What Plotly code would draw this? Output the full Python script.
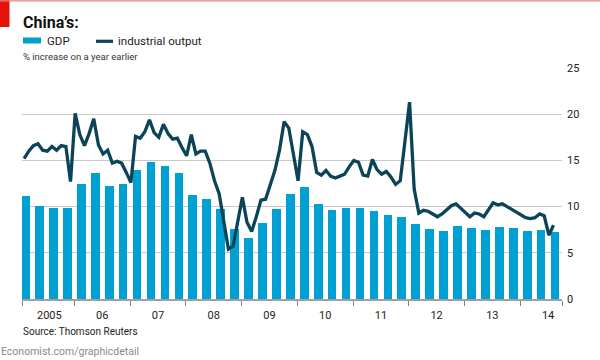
import plotly.graph_objects as go

# ---------------- data ----------------
gdp_years = [2005]*4 + [2006]*4 + [2007]*4 + [2008]*4 + [2009]*4 + [2010]*4 + \
            [2011]*4 + [2012]*4 + [2013]*4 + [2014]*3
gdp_quarters = [1, 2, 3, 4]*9 + [1, 2, 3]
gdp_values = [11.2, 10.1, 9.8, 9.9,
              12.4, 13.6, 12.2, 12.5,
              14.0, 14.8, 14.4, 13.6,
              11.3, 10.8, 9.7, 7.6,
              6.6, 8.2, 9.7, 11.4,
              12.1, 10.3, 9.6, 9.8,
              9.8, 9.5, 9.1, 8.9,
              8.1, 7.6, 7.4, 7.9,
              7.7, 7.5, 7.8, 7.7,
              7.4, 7.5, 7.3]

ip_2005 = [15.2, 16.0, 16.6, 16.8, 16.1, 16.0, 16.5, 16.1, 16.6, 16.5]  # Mar-Dec
ip_2006 = [12.7, 20.1, 17.8, 16.6, 17.9, 19.5, 16.7, 15.7, 16.1, 14.7, 14.9, 14.7]
ip_2007 = [13.7, 12.6, 17.6, 17.4, 18.1, 19.4, 18.0, 17.5, 18.9, 17.9, 17.3, 17.4]
ip_2008 = [16.4, 15.5, 17.8, 15.7, 16.0, 16.0, 14.7, 12.8, 11.4, 8.2, 5.4, 5.7]
ip_2009 = [8.4, 11.0, 8.3, 7.3, 8.9, 10.7, 10.8, 12.3, 13.9, 16.1, 19.2, 18.5]
ip_2010 = [15.7, 12.8, 18.1, 17.8, 16.5, 13.7, 13.4, 13.9, 13.3, 13.1, 13.3, 13.5]
ip_2011 = [14.3, 15.0, 14.8, 13.4, 13.3, 15.1, 14.0, 13.5, 13.8, 13.2, 12.4, 12.8]
ip_2012 = [17.0, 21.3, 11.9, 9.3, 9.6, 9.5, 9.2, 8.9, 9.2, 9.6, 10.1, 10.3]
ip_2013 = [9.8, 9.3, 8.9, 9.3, 9.2, 8.9, 9.7, 10.4, 10.2, 10.3, 10.0, 9.7]
ip_2014 = [9.4, 9.0, 8.8, 8.7, 8.8, 9.2, 9.0, 6.9, 8.0]  # Jan-Sep

year_labels = ["2005", "06", "07", "08", "09", "10", "11", "12", "13", "14"]
y_ticks = [0, 5, 10, 15, 20, 25]

# ---------------- build series ----------------
ip_blocks = [(2005, 3, ip_2005), (2006, 1, ip_2006), (2007, 1, ip_2007),
             (2008, 1, ip_2008), (2009, 1, ip_2009), (2010, 1, ip_2010),
             (2011, 1, ip_2011), (2012, 1, ip_2012), (2013, 1, ip_2013),
             (2014, 1, ip_2014)]
ip_x, ip_y = [], []
for yr, m0, vals in ip_blocks:
    for k, v in enumerate(vals):
        ip_x.append(yr + (m0 + k - 1.83) / 12.0)
        ip_y.append(v)

gdp_x = [y + (q - 0.5) / 4.0 for y, q in zip(gdp_years, gdp_quarters)]

BAR = "#00a0d2"
LINE = "#0b4458"
GRID = "#c8c8c8"
FONT = "Roboto, Liberation Sans, sans-serif"

fig = go.Figure()
fig.add_trace(go.Bar(x=gdp_x, y=gdp_values, width=0.156, marker_color=BAR,
                     marker_line_width=0, name="GDP", showlegend=False))
fig.add_trace(go.Scatter(x=ip_x, y=ip_y, mode="lines", name="industrial output",
                         line=dict(color=LINE, width=3.3), showlegend=False))

# plot area: x 22..562 px, y 68..299 px
L, R, T, B = 22, 38, 68, 61
W, H = 600, 360
pw, ph = W - L - R, H - T - B


def px(x):
    return (x - L) / pw


def py(y):
    return (H - B - y) / ph


year_mid = [2005.55] + [2006.5 + i for i in range(9)]
year_bounds = [2005.06] + [2006 + i for i in range(9)] + [2014.75]

fig.update_layout(
    width=W, height=H,
    margin=dict(l=L, r=R, t=T, b=B),
    paper_bgcolor="white", plot_bgcolor="white",
    font=dict(family=FONT, size=11, color="#222"),
    bargap=0,
    xaxis=dict(range=[2005.06, 2014.75], tickmode="array", tickvals=year_mid,
               ticktext=year_labels, ticks="", showgrid=False, zeroline=False,
               showline=True, linecolor="#a0a0a0", linewidth=1.5,
               ticklabelstandoff=5, tickfont=dict(size=11, color="#222"),
               minor=dict(tickmode="array", tickvals=year_bounds, ticks="outside",
                          ticklen=5, tickwidth=1, tickcolor="#808080", showgrid=False)),
    yaxis=dict(range=[0, 25], side="right", tickvals=y_ticks, showgrid=True,
               gridcolor=GRID, gridwidth=1.4, zeroline=False, ticks="",
               ticklabelstandoff=4, tickfont=dict(size=11, color="#222"),
               showline=False),
)

shapes = [
    # red corner block and thin top rule
    dict(type="rect", xref="paper", yref="paper", x0=px(0), x1=px(9.5), y0=py(27), y1=py(0),
         fillcolor="#e3120b", line_width=0, layer="above"),
    dict(type="line", xref="paper", yref="paper", x0=px(0), x1=px(600), y0=py(0.8), y1=py(0.8),
         line=dict(color="#e98080", width=1.2)),
    # legend keys
    dict(type="rect", xref="paper", yref="paper", x0=px(23), x1=px(41), y0=py(43.5), y1=py(37.5),
         fillcolor=BAR, line_width=0),
    dict(type="line", xref="paper", yref="paper", x0=px(96), x1=px(113), y0=py(41.3), y1=py(41.3),
         line=dict(color=LINE, width=3.2)),
]
fig.update_layout(shapes=shapes)

ann = [
    dict(text="<b>China’s:</b>", x=px(21), y=py(22), xanchor="left", yanchor="middle",
         font=dict(size=16, color="#111")),
    dict(text="GDP", x=px(45), y=py(41), xanchor="left", yanchor="middle",
         font=dict(size=11.5, color="#222")),
    dict(text="industrial output", x=px(116), y=py(41), xanchor="left", yanchor="middle",
         font=dict(size=11.5, color="#222")),
    dict(text="% increase on a year earlier", x=px(21), y=py(57), xanchor="left",
         yanchor="middle", font=dict(size=9.5, color="#333")),
    dict(text="Source: Thomson Reuters", x=px(21), y=py(331), xanchor="left",
         yanchor="middle", font=dict(size=10, color="#222")),
    dict(text="Economist.com/graphicdetail", x=px(-1), y=py(351), xanchor="left",
         yanchor="middle", font=dict(size=10.5, color="#8a8a8a")),
]
for a in ann:
    a.update(xref="paper", yref="paper", showarrow=False)
fig.update_layout(annotations=ann)

fig.write_html(
    "out.html",
    config={"displayModeBar": False},
    post_script="document.body.style.margin='0';document.body.style.overflow='hidden';",
)
